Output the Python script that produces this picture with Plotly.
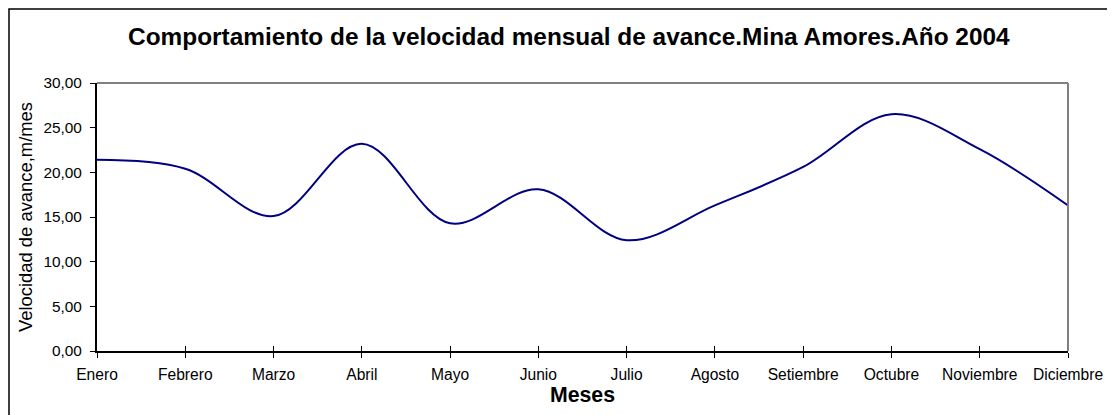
import plotly.graph_objects as go

meses = ["Enero", "Febrero", "Marzo", "Abril", "Mayo", "Junio", "Julio",
         "Agosto", "Setiembre", "Octubre", "Noviembre", "Diciembre"]
velocidad = [21.4, 20.4, 15.1, 23.2, 14.3, 18.1, 12.4, 16.3, 20.6, 26.5, 22.6, 16.3]
y_ticks = [0, 5, 10, 15, 20, 25, 30]
y_tick_text = ["0,00", "5,00", "10,00", "15,00", "20,00", "25,00", "30,00"]

FONT = "Liberation Sans, Arial, sans-serif"

fig = go.Figure()
fig.add_trace(go.Scatter(
    x=meses, y=velocidad, mode="lines",
    line=dict(color="#000080", width=2, shape="spline", smoothing=1.0),
    showlegend=False, hoverinfo="x+y",
))
# invisible trace on overlay axis to draw inner half of crossing ticks
fig.add_trace(go.Scatter(
    x=meses, y=velocidad, mode="lines", xaxis="x2",
    line=dict(color="rgba(0,0,0,0)", width=0), showlegend=False, hoverinfo="skip",
))

fig.update_layout(
    width=1115, height=415,
    margin=dict(l=89, r=55, t=75, b=72),
    paper_bgcolor="white", plot_bgcolor="white",
    font=dict(family=FONT, color="black", size=15),
    title=dict(
        text="<b>Comportamiento de la velocidad mensual de avance.Mina Amores.Año 2004</b>",
        x=0.503, xanchor="center", y=1 - 28 / 415, yanchor="middle",
        font=dict(family=FONT, size=24.4, color="black"),
    ),
    xaxis=dict(
        type="category", range=[0, 11], showgrid=False, zeroline=False,
        showline=True, linecolor="black", linewidth=2, mirror=False,
        ticks="outside", ticklen=5, tickwidth=1, tickcolor="black",
        tickfont=dict(size=15.6, family=FONT), ticklabelstandoff=3,
        title=dict(text="<b>Meses</b>", font=dict(size=21.3, family=FONT), standoff=4),
    ),
    xaxis2=dict(
        type="category", range=[0, 11], overlaying="x", side="bottom",
        showgrid=False, zeroline=False, showline=False,
        ticks="inside", ticklen=5, tickwidth=1, tickcolor="black",
        showticklabels=False, anchor="y",
    ),
    yaxis=dict(
        range=[0, 30], tickvals=y_ticks, ticktext=y_tick_text,
        showgrid=False, zeroline=False,
        showline=True, linecolor="black", linewidth=2,
        ticks="outside", ticklen=5, tickwidth=1, tickcolor="black",
        tickfont=dict(size=15.4, family=FONT), ticklabelstandoff=5,
        title=dict(text="Velocidad de avance,m/mes", font=dict(size=18.4, family=FONT), standoff=6),
    ),
    shapes=[
        # gray plot-area border (top & right)
        dict(type="line", xref="paper", yref="paper", x0=0, x1=1, y0=1, y1=1,
             line=dict(color="#808080", width=2)),
        dict(type="line", xref="paper", yref="paper", x0=1, x1=1, y0=0, y1=1,
             line=dict(color="#808080", width=2)),
        # chart outer border
        dict(type="rect", xref="paper", yref="paper",
             x0=(9 - 97) / 971, x1=1.1, y0=-0.3, y1=(351 - 9) / 268,
             line=dict(color="black", width=1.5), layer="above"),
    ],
)

fig.write_html("out.html")
